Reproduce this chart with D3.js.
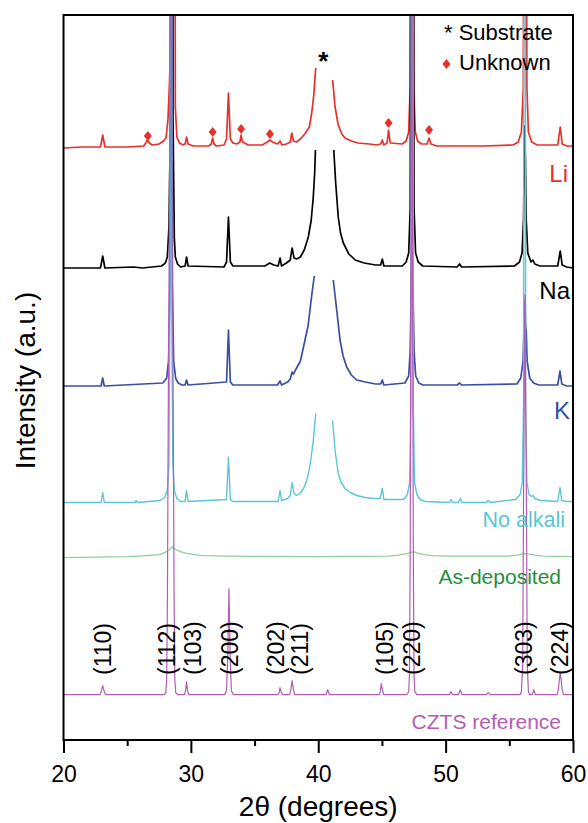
<!DOCTYPE html>
<html>
<head>
<meta charset="utf-8">
<script src="https://cdn.jsdelivr.net/npm/d3@7"></script>
<style>
  html, body { margin: 0; padding: 0; background: #fff; }
  svg { display: block; }
  text { font-family: "Liberation Sans", Arial, sans-serif; }
</style>
</head>
<body>
<svg id="chart" width="588" height="823"></svg>
<script>
// ---------------- DATA (2θ in degrees, intensity in a.u. relative to each pattern's baseline) ----------------
const seriesNames = ["Li", "Na", "K", "No alkali", "As-deposited", "CZTS reference"];
const seriesOffsets = [593, 472, 354, 237.5, 183.3, 45.3];

const li = [[20,-1],[21.5,0],[22.9,0],[23.08,12],[23.25,0],[25.0,0],[26.3,1],[26.45,4],[26.59,7],[26.75,4],[26.95,2],[27.5,3],[27.85,6],[28.05,9],[28.2,27],[28.32,64],[28.43,114],[28.53,600],[28.62,2500],[28.72,600],[28.78,40],[28.9,10],[29.1,4],[29.4,2],[29.55,3],[29.66,10],[29.78,3],[30.2,1],[31.4,1],[31.6,3],[31.71,9],[31.82,3],[32.0,1],[32.6,2],[32.8,8],[32.95,54],[33.1,8],[33.3,4],[33.6,3],[33.85,5],[33.94,12],[34.05,5],[34.5,2],[35.6,2],[36.0,5],[36.21,7],[36.4,5],[36.8,3],[37.0,6],[37.15,2],[37.5,3],[37.8,5],[37.92,14],[38.05,6],[38.3,5],[38.6,8],[39.0,14],[39.3,20],[39.5,35],[39.65,52],[39.8,79],[40.4,null],[41.13,67],[41.32,40],[41.57,22],[41.85,13],[42.1,9],[42.6,6],[43.12,4],[44.0,3],[44.6,2],[44.9,3],[45.03,7],[45.15,2],[45.4,4],[45.52,17],[45.65,4],[46.6,3],[46.9,6],[47.1,15],[47.22,60],[47.3,600],[47.36,2500],[47.43,600],[47.5,60],[47.62,15],[47.8,6],[48.1,3],[48.55,3],[48.7,9],[48.85,3],[49.3,1],[51.0,1],[53.0,1],[55.3,2],[55.7,5],[55.95,15],[56.1,60],[56.18,600],[56.24,2500],[56.3,600],[56.38,60],[56.5,15],[56.75,5],[57.2,2],[58.8,2],[59.0,20],[59.15,3],[59.5,1],[60,1]];

const na = [[20,0],[22.9,0],[23.08,12],[23.25,0],[25.5,1],[26.2,0],[27.7,2],[28.0,5],[28.15,11],[28.28,41],[28.4,150],[28.5,2500],[28.6,150],[28.7,30],[28.78,11],[28.95,4],[29.2,1],[29.55,2],[29.66,11],[29.78,2],[32.6,1],[32.8,6],[32.95,51],[33.1,6],[33.3,2],[35.8,2],[36.2,5],[36.5,3],[36.85,2],[37.0,10],[37.12,2],[37.5,5],[37.8,8],[37.95,20],[38.1,10],[38.3,9],[38.6,11],[38.9,18],[39.22,31],[39.45,48],[39.61,71],[39.72,95],[39.78,118],[40.4,null],[41.22,118],[41.37,85],[41.57,51],[41.75,35],[41.97,25],[42.4,14],[42.9,8],[43.6,5],[44.5,3],[44.9,3],[45.03,9],[45.15,2],[46.6,2],[46.9,6],[47.1,15],[47.22,60],[47.3,600],[47.37,2500],[47.44,600],[47.52,60],[47.64,15],[47.85,6],[48.2,2],[50.9,1],[51.1,4],[51.25,1],[55.4,2],[55.8,6],[56.0,15],[56.12,50],[56.2,142],[56.26,110],[56.32,50],[56.45,15],[56.7,6],[56.85,8],[57.0,4],[57.4,2],[58.8,2],[59.0,17],[59.15,3],[59.5,1],[60,0]];

const k = [[20,0],[22.95,0],[23.08,8],[23.2,0],[27.8,3],[28.1,8],[28.25,25],[28.35,100],[28.45,2500],[28.55,100],[28.65,25],[28.8,8],[29.0,3],[29.3,1],[29.55,1],[29.66,6],[29.78,1],[32.8,4],[32.95,56],[33.1,4],[33.3,1],[36.8,1],[37.0,5],[37.12,1],[37.6,4],[37.8,7],[37.95,14],[38.05,12],[38.3,18],[38.6,25],[38.96,46],[39.2,60],[39.35,76],[39.5,92],[39.69,110],[40.4,null],[41.18,106],[41.45,76],[41.71,46],[41.95,30],[42.23,19],[42.6,11],[43.02,6],[43.7,4],[44.5,2],[44.9,2],[45.03,6],[45.15,1],[46.8,3],[47.1,10],[47.22,35],[47.3,100],[47.37,166],[47.44,100],[47.52,35],[47.65,10],[47.9,3],[48.2,1],[50.9,1],[51.1,3],[51.25,1],[55.6,2],[55.9,8],[56.08,25],[56.18,70],[56.23,86],[56.28,60],[56.33,55],[56.4,25],[56.6,8],[56.9,3],[57.3,1],[58.8,1],[58.98,15],[59.12,2],[59.5,0],[60,0]];

const noAlkali = [[20,0],[22.95,0],[23.08,10],[23.2,0],[25.6,0],[25.7,2],[25.8,0],[27.6,2],[27.95,5],[28.15,12],[28.28,40],[28.36,200],[28.43,2500],[28.5,200],[28.58,40],[28.7,12],[28.9,4],[29.2,1],[29.55,1],[29.66,12],[29.78,1],[32.8,3],[32.95,45],[33.1,3],[33.3,1],[36.85,1],[37.0,12],[37.12,2],[37.6,4],[37.8,7],[37.95,20],[38.1,9],[38.3,7],[38.57,9],[38.85,14],[39.09,22],[39.25,30],[39.41,42],[39.61,62],[39.8,89],[40.4,null],[41.13,82],[41.32,52],[41.57,29],[41.8,20],[42.1,14],[42.5,10],[43.02,7],[43.7,5],[44.4,4],[44.85,4],[45.03,14],[45.15,3],[46.7,3],[47.0,8],[47.18,20],[47.28,100],[47.37,2500],[47.46,100],[47.56,20],[47.75,8],[48.0,3],[48.4,1],[50.3,0],[50.42,3],[50.55,0],[51.0,0],[51.15,4],[51.3,0],[53.2,0],[53.35,2],[53.5,0],[55.5,3],[55.85,8],[56.02,20],[56.12,100],[56.2,2500],[56.28,100],[56.38,20],[56.55,8],[56.75,6],[56.9,7],[57.0,4],[57.4,2],[58.8,1],[58.98,15],[59.12,2],[59.5,1],[60,1]];

const asDeposited = [[20,-1],[25,0],[26.5,1],[27.58,2],[28.1,5],[28.36,7.5],[28.55,10],[28.7,8],[28.89,6.5],[29.3,4.5],[29.67,3.3],[30.3,2],[31,1],[33,0.5],[40,0],[45.5,0.5],[46.3,1.5],[47.0,3],[47.45,5],[47.8,3.5],[48.3,2],[49,1],[50,0.5],[54.8,0.5],[55.6,1.5],[56.25,3],[56.8,2],[57.6,0.5],[60,0]];

const czts = [[20,0],[22.85,0],[22.95,3],[23.08,9],[23.2,3],[23.3,0],[27.9,0],[28.03,2],[28.1,15],[28.16,100],[28.23,295],[28.32,495],[28.37,680],[28.42,1500],[28.47,680],[28.52,495],[28.61,295],[28.68,100],[28.74,15],[28.81,2],[28.95,0],[29.5,0],[29.58,4],[29.66,13],[29.74,4],[29.82,0],[32.65,0],[32.8,4],[32.9,40],[32.99,106],[33.08,40],[33.18,4],[33.33,0],[36.85,0],[36.95,3],[37.0,7],[37.08,3],[37.2,0],[37.75,0],[37.85,5],[37.95,14],[38.05,5],[38.15,0],[40.6,0],[40.74,5],[40.88,0],[44.8,0],[44.88,4],[44.95,11],[45.05,4],[45.15,0],[46.95,0],[47.1,3],[47.16,20],[47.22,150],[47.27,400],[47.31,680],[47.34,1500],[47.37,680],[47.41,400],[47.46,150],[47.52,20],[47.58,3],[47.75,0],[50.3,0],[50.42,3],[50.55,0],[51.0,0],[51.15,5],[51.3,0],[53.2,0],[53.35,2],[53.5,0],[55.85,0],[55.95,3],[56.05,30],[56.12,200],[56.23,400],[56.34,200],[56.41,30],[56.5,3],[56.6,0],[56.8,0],[56.92,5],[57.05,0],[58.75,0],[58.85,5],[58.93,15],[59.0,22],[59.07,15],[59.15,5],[59.25,0],[60,0]];

const hklLabels = ["(110)", "(112)", "(103)", "(200)", "(202)", "(211)", "(105)", "(220)", "(303)", "(224)"];
const hklPos = [23.12, 28.15, 30.19, 33.07, 36.68, 38.57, 45.24, 47.34, 56.15, 58.98];

const unknownPos = [26.62, 31.71, 33.94, 36.21, 45.52, 48.7];
const unknownHeight = [11, 15, 18, 13, 24, 17];   // above Li baseline
const substratePos = 40.4;

const xTicks = [20, 30, 40, 50, 60];
const xMinorTicks = [25, 35, 45, 55];

// ---------------- STYLE / LAYOUT ----------------
const seriesData = [li, na, k, noAlkali, asDeposited, czts];
const lineColors = ["#e8302a", "#000000", "#3a4ea6", "#5ac6da", "#8fcf9b", "#b45cb4"];
const textColors = ["#e8302a", "#000000", "#3a4ea6", "#5ac6da", "#24903d", "#b45cb4"];
const lineWidths = [1.7, 1.7, 1.7, 1.4, 1.3, 1.2];
const labelSizes = [24, 24, 24, 21.5, 21, 21];
const labelLayout = [[568, 182], [570, 298.5], [570, 418.5], [565, 527], [561, 584], [561, 728.5]];

const plot = { left: 63.5, right: 573, top: 15, bottom: 740 };

const svg = d3.select("#chart");
const x = d3.scaleLinear().domain([20, 60]).range([plot.left, plot.right]);
const y = d3.scaleLinear().domain([0, 725]).range([plot.bottom, plot.top]);

svg.append("defs").append("clipPath").attr("id", "clip")
  .append("rect").attr("x", plot.left).attr("y", plot.top)
  .attr("width", plot.right - plot.left).attr("height", plot.bottom - plot.top);

const g = svg.append("g").attr("clip-path", "url(#clip)");

seriesData.forEach((data, i) => {
  const off = seriesOffsets[i];
  const line = d3.line()
    .defined(d => d[1] !== null)
    .x(d => x(d[0]))
    .y(d => y(d[1] + off));
  g.append("path")
    .datum(data)
    .attr("fill", "none")
    .attr("stroke", lineColors[i])
    .attr("stroke-width", lineWidths[i])
    .attr("stroke-linejoin", "round")
    .attr("d", line);
});

// Unknown markers (diamonds)
const diamond = (cx, cy) => `M${cx},${cy - 5}L${cx + 4},${cy}L${cx},${cy + 5}L${cx - 4},${cy}Z`;
svg.append("g").selectAll("path")
  .data(unknownPos)
  .join("path")
  .attr("d", (d, i) => diamond(x(d), y(seriesOffsets[0] + unknownHeight[i])))
  .attr("fill", "#e8302a");

// Substrate asterisk
svg.append("text")
  .attr("x", x(substratePos)).attr("y", 70)
  .attr("text-anchor", "middle")
  .attr("font-size", 26).attr("font-weight", "bold")
  .text("*");

// Legend
svg.append("text").attr("x", 444).attr("y", 40).attr("font-size", 22).text("* Substrate");
svg.append("path").attr("d", diamond(446.5, 64)).attr("fill", "#e8302a");
svg.append("text").attr("x", 459).attr("y", 70).attr("font-size", 22).text("Unknown");

// Series labels
seriesNames.forEach((name, i) => {
  svg.append("text")
    .attr("x", labelLayout[i][0]).attr("y", labelLayout[i][1])
    .attr("text-anchor", "end")
    .attr("font-size", labelSizes[i])
    .attr("fill", textColors[i])
    .text(name);
});

// hkl labels
svg.append("g").selectAll("text")
  .data(hklLabels)
  .join("text")
  .attr("transform", (d, i) => `translate(${x(hklPos[i])},675) rotate(-90)`)
  .attr("dy", "0.35em")
  .attr("font-size", 23)
  .text(d => d);

// Frame
svg.append("rect")
  .attr("x", plot.left).attr("y", plot.top)
  .attr("width", plot.right - plot.left).attr("height", plot.bottom - plot.top)
  .attr("fill", "none").attr("stroke", "#000").attr("stroke-width", 2);

// X axis
const axis = svg.append("g").attr("transform", `translate(0,${plot.bottom})`)
  .call(d3.axisBottom(x).tickValues(xTicks).tickSize(13).tickPadding(13).tickFormat(d3.format("d")));
axis.select(".domain").remove();
axis.selectAll(".tick line").attr("stroke-width", 2);
axis.selectAll(".tick text").attr("font-size", 23).attr("font-family", "'Liberation Sans', Arial, sans-serif").attr("fill", "#000");

const minor = svg.append("g").attr("transform", `translate(0,${plot.bottom})`)
  .call(d3.axisBottom(x).tickValues(xMinorTicks).tickSize(6).tickFormat(""));
minor.select(".domain").remove();
minor.selectAll(".tick line").attr("stroke-width", 2);

// Axis titles
svg.append("text")
  .attr("x", (plot.left + plot.right) / 2).attr("y", 816)
  .attr("text-anchor", "middle").attr("font-size", 28)
  .text("2θ (degrees)");

svg.append("text")
  .attr("transform", `translate(35,${(plot.top + plot.bottom) / 2 + 3}) rotate(-90)`)
  .attr("text-anchor", "middle").attr("font-size", 28)
  .text("Intensity (a.u.)");
</script>
</body>
</html>
